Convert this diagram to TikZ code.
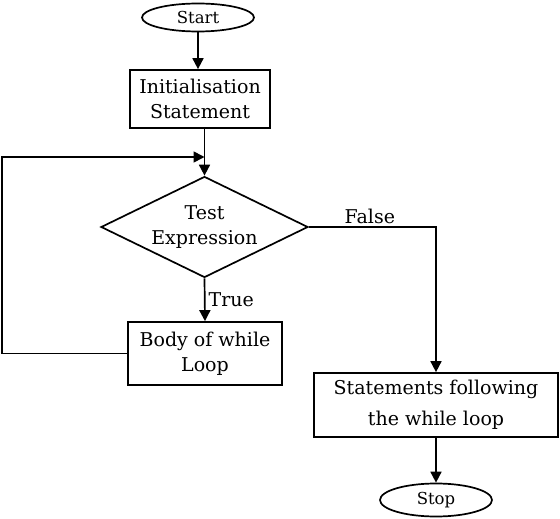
\documentclass[tikz,border=0pt]{standalone}
\usepackage{fontspec}
\setmainfont{DejaVu Serif}
\usetikzlibrary{shapes.geometric,arrows.meta}
\begin{document}
\begin{tikzpicture}[x=1pt,y=-1pt,
  every node/.style={font=\fontsize{19}{25}\selectfont},
  term/.style={draw,line width=1.7pt,ellipse,minimum width=112pt,minimum height=28pt,inner sep=0pt,font=\fontsize{16.5}{18}\selectfont},
  procbox/.style={draw,line width=1.7pt,rectangle,align=center,inner sep=0pt},
  line/.style={line width=1.7pt},
  arr/.style={line width=1.7pt,-{Triangle[length=11pt,width=11pt]}},
  lbl/.style={font=\fontsize{19}{21}\selectfont}]
\useasboundingbox (0,0) rectangle (560,519);
\node[term] (start) at (198,17.5) {Start};
\node[procbox,minimum width=140pt,minimum height=58pt] (init) at (200,99) {Initialisation\\Statement};
\node[draw,line width=1.7pt,diamond,aspect=2,minimum width=207pt,minimum height=101pt,inner sep=0pt,align=center] (test) at (204.5,227) {Test\\Expression};
\node[procbox,minimum width=154pt,minimum height=63pt] (body) at (205,353.5) {Body of while\\Loop};
\node[procbox,minimum width=244pt,minimum height=64pt,font=\fontsize{19}{31}\selectfont] (after) at (436,405) {Statements following\\the while loop};
\node[term,minimum height=33pt] (stop) at (436,500) {Stop};
\coordinate (join) at (204.5,157);
\coordinate (bl) at (2,353.5);
\coordinate (tl) at (2,157);
\coordinate (fr) at (436,227);
\draw[arr] (start) -- (init.north -| start);
\draw[line] (init.south -| join) -- (join);
\draw[arr] (join) -- (test.north);
\draw[arr] (body.west) -- (bl) -- (tl) -- (join);
\draw[arr] (test.south) -- node[lbl,right,inner sep=3pt] {True} (body.north);
\draw[arr] (test.east) -- node[lbl,above,pos=0.48,inner sep=2pt] {False} (fr) -- (after.north);
\draw[arr] (after.south) -- (stop.north);
\end{tikzpicture}
\end{document}
